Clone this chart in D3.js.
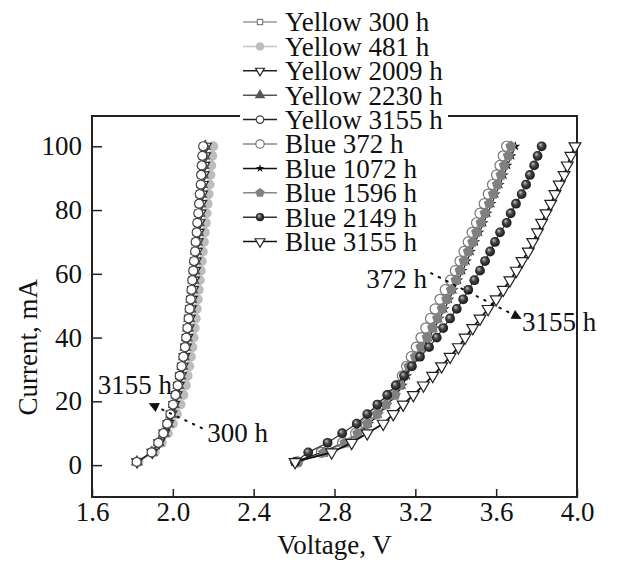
<!DOCTYPE html>
<html>
<head>
<meta charset="utf-8">
<script src="https://cdn.jsdelivr.net/npm/d3@7"></script>
<style>
  body { margin: 0; background: #fff; }
  svg { display: block; font-family: "Liberation Serif", "Times New Roman", serif; }
</style>
</head>
<body>
<div id="chart"></div>
<script>
// current steps (mA), shared by all curves
const currents = [1, 4, 7, 10, 13, 16, 19, 22, 25, 28, 31, 34, 37, 40, 43, 46, 49, 52, 55, 58, 61, 64, 67, 70, 73, 76, 79, 82, 85, 88, 91, 94, 97, 100];

// voltages (V)
const yellow300 = [1.825, 1.900, 1.935, 1.962, 1.982, 1.997, 2.010, 2.021, 2.031, 2.040, 2.048, 2.056, 2.063, 2.069, 2.075, 2.080, 2.085, 2.090, 2.094, 2.098, 2.103, 2.107, 2.111, 2.115, 2.119, 2.123, 2.127, 2.131, 2.135, 2.139, 2.142, 2.145, 2.148, 2.152];
const yellow481 = [1.830, 1.910, 1.945, 1.975, 2.000, 2.020, 2.038, 2.052, 2.064, 2.073, 2.081, 2.089, 2.096, 2.102, 2.108, 2.113, 2.118, 2.123, 2.128, 2.133, 2.138, 2.143, 2.148, 2.153, 2.158, 2.163, 2.167, 2.172, 2.177, 2.182, 2.186, 2.190, 2.195, 2.200];
const yellow2009 = [1.823, 1.898, 1.932, 1.958, 1.978, 1.993, 2.007, 2.019, 2.030, 2.040, 2.049, 2.057, 2.065, 2.072, 2.078, 2.084, 2.090, 2.095, 2.100, 2.105, 2.110, 2.114, 2.119, 2.123, 2.128, 2.132, 2.137, 2.141, 2.145, 2.149, 2.153, 2.156, 2.160, 2.164];
const yellow2230 = [1.822, 1.896, 1.930, 1.956, 1.976, 1.991, 2.005, 2.017, 2.028, 2.038, 2.047, 2.055, 2.062, 2.069, 2.075, 2.081, 2.087, 2.092, 2.097, 2.102, 2.107, 2.111, 2.116, 2.120, 2.125, 2.129, 2.133, 2.137, 2.141, 2.145, 2.149, 2.152, 2.156, 2.160];
const yellow3155 = [1.821, 1.895, 1.928, 1.953, 1.972, 1.988, 2.001, 2.013, 2.024, 2.034, 2.043, 2.052, 2.060, 2.066, 2.072, 2.078, 2.083, 2.088, 2.092, 2.096, 2.101, 2.105, 2.110, 2.113, 2.118, 2.121, 2.126, 2.130, 2.133, 2.138, 2.140, 2.143, 2.146, 2.150];
const blue372 = [2.615, 2.735, 2.840, 2.905, 2.955, 3.000, 3.042, 3.082, 3.112, 3.136, 3.157, 3.180, 3.205, 3.228, 3.252, 3.275, 3.298, 3.322, 3.348, 3.374, 3.398, 3.421, 3.441, 3.462, 3.481, 3.503, 3.520, 3.541, 3.561, 3.582, 3.602, 3.619, 3.635, 3.652];
const blue1072 = [2.600, 2.740, 2.850, 2.920, 2.972, 3.020, 3.062, 3.105, 3.138, 3.160, 3.180, 3.210, 3.238, 3.268, 3.295, 3.320, 3.345, 3.368, 3.390, 3.413, 3.434, 3.455, 3.476, 3.497, 3.517, 3.538, 3.558, 3.578, 3.598, 3.618, 3.638, 3.656, 3.676, 3.695];
const blue1596 = [2.621, 2.750, 2.852, 2.915, 2.962, 3.010, 3.055, 3.100, 3.125, 3.146, 3.168, 3.200, 3.228, 3.258, 3.285, 3.310, 3.333, 3.355, 3.378, 3.401, 3.421, 3.441, 3.462, 3.484, 3.503, 3.525, 3.545, 3.566, 3.586, 3.606, 3.624, 3.640, 3.660, 3.673];
const blue2149 = [2.605, 2.670, 2.766, 2.838, 2.910, 2.962, 3.012, 3.061, 3.103, 3.144, 3.183, 3.223, 3.268, 3.306, 3.338, 3.372, 3.405, 3.437, 3.462, 3.492, 3.520, 3.545, 3.570, 3.594, 3.619, 3.652, 3.672, 3.698, 3.726, 3.748, 3.767, 3.788, 3.805, 3.825];
const blue3155 = [2.605, 2.786, 2.885, 2.962, 3.041, 3.091, 3.140, 3.190, 3.240, 3.286, 3.330, 3.372, 3.413, 3.446, 3.484, 3.520, 3.560, 3.600, 3.635, 3.668, 3.700, 3.728, 3.759, 3.781, 3.805, 3.825, 3.847, 3.870, 3.891, 3.912, 3.936, 3.952, 3.970, 3.990];

const seriesNames = ["Yellow 300 h", "Yellow 481 h", "Yellow 2009 h", "Yellow 2230 h", "Yellow 3155 h",
                     "Blue 372 h", "Blue 1072 h", "Blue 1596 h", "Blue 2149 h", "Blue 3155 h"];
const seriesValues = [yellow300, yellow481, yellow2009, yellow2230, yellow3155,
                      blue372, blue1072, blue1596, blue2149, blue3155];

const xTicks = [1.6, 2.0, 2.4, 2.8, 3.2, 3.6, 4.0];
const yTicks = [0, 20, 40, 60, 80, 100];

// marker / line look per series (same order as names)
const styles = [
    { marker: "square",   size: 40, fill: "#fff",    stroke: "#808080", line: "#999" },
    { marker: "circle",   size: 80, fill: "#bdbdbd", stroke: "none",    line: "#c4c4c4" },
    { marker: "triDown",  size: 48, fill: "#fff",    stroke: "#222",    line: "#222" },
    { marker: "triUp",    size: 45, fill: "#555",    stroke: "#555",    line: "#555" },
    { marker: "circle",   size: 64, fill: "#fff",    stroke: "#444",    line: "#222" },
    { marker: "circle",   size: 80, fill: "#fff",    stroke: "#777",    line: "#888" },
    { marker: "star",     size: 30, fill: "#111",    stroke: "none",    line: "#111" },
    { marker: "pentagon", size: 80, fill: "#808080", stroke: "none",    line: "#888" },
    { marker: "sphere",   size: 75, fill: "url(#sphere)", stroke: "none", line: "#333" },
    { marker: "triDown",  size: 60, fill: "#fff",    stroke: "#222",    line: "#111" }
];

const width = 632, height = 563;
const margin = { top: 116, right: 55, bottom: 66, left: 92 };
const fontSize = 27;

const svg = d3.select("#chart").append("svg")
    .attr("width", width)
    .attr("height", height);

const x = d3.scaleLinear().domain([1.6, 4.0]).range([margin.left, width - margin.right]);
const y = d3.scaleLinear().domain([-10, 109.5]).range([height - margin.bottom, margin.top]);

// shaded ball for Blue 2149 h
const defs = svg.append("defs");
const grad = defs.append("radialGradient").attr("id", "sphere")
    .attr("cx", "50%").attr("cy", "50%").attr("r", "55%")
    .attr("fx", "35%").attr("fy", "30%");
grad.append("stop").attr("offset", "0%").attr("stop-color", "#c8c8c8");
grad.append("stop").attr("offset", "45%").attr("stop-color", "#444");
grad.append("stop").attr("offset", "100%").attr("stop-color", "#111");

defs.append("marker").attr("id", "arrow")
    .attr("viewBox", "0 0 10 10").attr("refX", 9).attr("refY", 5)
    .attr("markerWidth", 7).attr("markerHeight", 5)
    .attr("markerUnits", "strokeWidth")
    .attr("orient", "auto")
    .append("path").attr("d", "M0,0 L10,5 L0,10 Z").attr("fill", "#111");

const pentagon = {
    draw(context, size) {
        const r = Math.sqrt(size / 2.378);
        for (let k = 0; k < 5; k++) {
            const a = -Math.PI / 2 + k * 2 * Math.PI / 5;
            if (k === 0) context.moveTo(r * Math.cos(a), r * Math.sin(a));
            else context.lineTo(r * Math.cos(a), r * Math.sin(a));
        }
        context.closePath();
    }
};

function markerPath(st) {
    const types = {
        square: d3.symbolSquare, circle: d3.symbolCircle, sphere: d3.symbolCircle,
        triDown: d3.symbolTriangle, triUp: d3.symbolTriangle,
        star: d3.symbolStar, pentagon: pentagon
    };
    return d3.symbol().type(types[st.marker]).size(st.size)();
}

function drawMarker(g, st, px, py) {
    g.append("path")
        .attr("d", markerPath(st))
        .attr("transform", `translate(${px},${py})` + (st.marker === "triDown" ? " rotate(180)" : ""))
        .attr("fill", st.fill)
        .attr("stroke", st.stroke)
        .attr("stroke-width", 1.2);
}

// axes, ticks pointing inward
const xAxis = svg.append("g")
    .attr("transform", `translate(0,${height - margin.bottom})`)
    .call(d3.axisBottom(x).tickValues(xTicks).tickFormat(d3.format(".1f")).tickSize(-8).tickPadding(5));
const yAxis = svg.append("g")
    .attr("transform", `translate(${margin.left},0)`)
    .call(d3.axisLeft(y).tickValues(yTicks).tickSize(-10).tickPadding(10));

[xAxis, yAxis].forEach(a => {
    a.select(".domain").remove();
    a.selectAll("line").attr("stroke", "#222").attr("stroke-width", 1.5);
    a.selectAll("text").attr("font-size", fontSize).attr("fill", "#111")
        .attr("font-family", "'Liberation Serif', serif");
});

// frame
svg.append("rect")
    .attr("x", x(1.6)).attr("y", y(109.5))
    .attr("width", x(4.0) - x(1.6)).attr("height", y(-10) - y(109.5))
    .attr("fill", "none").attr("stroke", "#222").attr("stroke-width", 2);

// curves
const line = d3.line().x(d => x(d[0])).y(d => y(d[1]));
seriesValues.forEach((vals, i) => {
    const st = styles[i];
    const pts = vals.map((v, j) => [v, currents[j]]);
    const g = svg.append("g");
    g.append("path").datum(pts)
        .attr("d", line)
        .attr("fill", "none")
        .attr("stroke", st.line)
        .attr("stroke-width", i === 9 ? 1.8 : 1.2);
    pts.forEach(p => drawMarker(g, st, x(p[0]), y(p[1])));
});

// annotations
function annotate(from, to) {
    svg.append("line")
        .attr("x1", x(from[0])).attr("y1", y(from[1]))
        .attr("x2", x(to[0])).attr("y2", y(to[1]))
        .attr("stroke", "#111").attr("stroke-width", 2)
        .attr("stroke-dasharray", "1.5,7").attr("stroke-linecap", "round")
        .attr("marker-end", "url(#arrow)");
}
annotate([2.144, 11.6], [1.885, 19.3]);
annotate([3.278, 60.2], [3.722, 46.0]);

const notes = [
    { text: "3155 h", v: 1.628, i: 22.4, anchor: "start" },
    { text: "300 h",  v: 2.170, i: 7.2,  anchor: "start" },
    { text: "372 h",  v: 3.258, i: 55.5, anchor: "end" },
    { text: "3155 h", v: 3.728, i: 42.0, anchor: "start" }
];
svg.selectAll(".note").data(notes).enter().append("text")
    .attr("class", "note")
    .attr("x", d => x(d.v)).attr("y", d => y(d.i))
    .attr("text-anchor", d => d.anchor)
    .attr("font-size", fontSize).attr("fill", "#111")
    .text(d => d.text);

// axis titles
svg.append("text")
    .attr("x", (x(1.6) + x(4.0)) / 2).attr("y", 554)
    .attr("text-anchor", "middle").attr("font-size", fontSize).attr("fill", "#111")
    .text("Voltage, V");
svg.append("text")
    .attr("transform", `translate(37,${y(37)}) rotate(-90)`)
    .attr("text-anchor", "middle").attr("font-size", fontSize).attr("fill", "#111")
    .text("Current, mA");

// legend, white box sits over the top of the frame
const legend = svg.append("g").attr("transform", "translate(240,0)");
legend.append("rect")
    .attr("x", 0).attr("y", 0).attr("width", 208).attr("height", 252)
    .attr("fill", "#fff");
seriesNames.forEach((name, i) => {
    const st = styles[i];
    const ry = 22 + i * 24.4;
    const row = legend.append("g");
    row.append("line")
        .attr("x1", 3).attr("x2", 37).attr("y1", ry).attr("y2", ry)
        .attr("stroke", st.line).attr("stroke-width", 1.5);
    drawMarker(row, Object.assign({}, st, { size: st.size * 0.7 }), 20, ry);
    row.append("text")
        .attr("x", 45).attr("y", ry).attr("dy", "0.35em")
        .attr("font-size", fontSize).attr("fill", "#111")
        .text(name);
});
</script>
</body>
</html>
